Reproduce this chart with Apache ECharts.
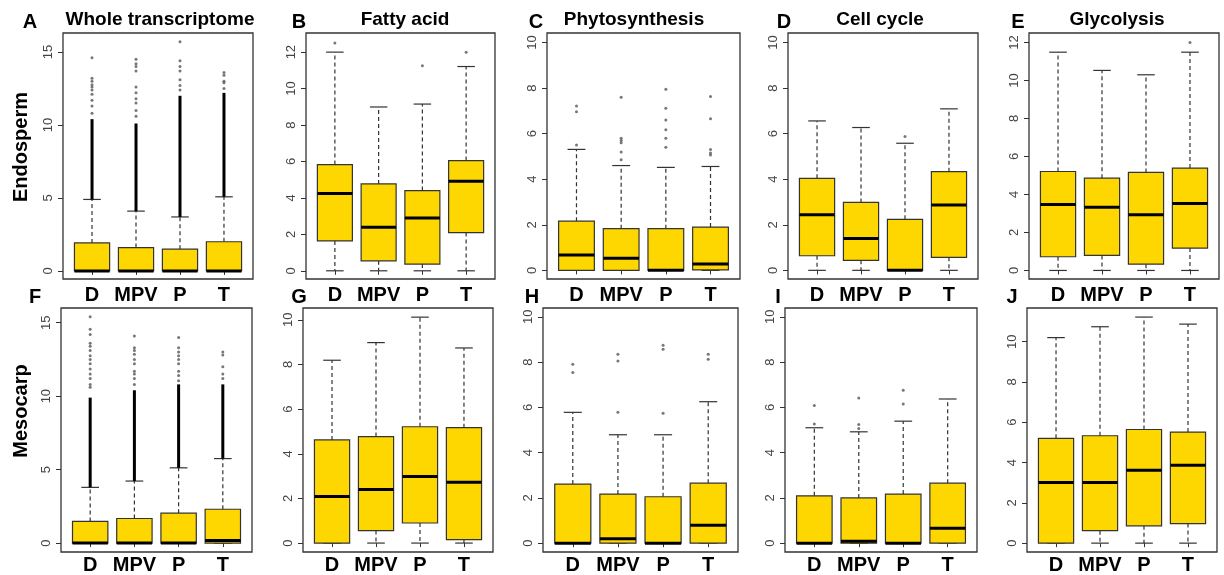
<!DOCTYPE html>
<html>
<head>
<meta charset="utf-8">
<script src="https://cdn.jsdelivr.net/npm/echarts@6/dist/echarts.min.js"></script>
<style>
  html, body { margin: 0; padding: 0; background: #fff; }
  #chart { width: 1224px; height: 575px; }
</style>
</head>
<body>
<div id="chart"></div>
<script>
const categories = ['D', 'MPV', 'P', 'T']
const panelLetters = ['A', 'B', 'C', 'D', 'E', 'F', 'G', 'H', 'I', 'J']
const panelTitles = ['Whole transcriptome', 'Fatty acid', 'Phytosynthesis', 'Cell cycle', 'Glycolysis']
const rowNames = ['Endosperm', 'Mesocarp']

// each box: [lower whisker, q1, median, q3, upper whisker]
const endoWhole = [[0, 0, 0, 1.92, 4.9], [0, 0, 0, 1.6, 4.1], [0, 0, 0, 1.49, 3.7], [0, 0, 0, 2.0, 5.08]]
const endoFatty = [[0, 1.64, 4.24, 5.83, 12.0], [0, 0.55, 2.39, 4.77, 8.99], [0, 0.37, 2.9, 4.4, 9.15], [0, 2.1, 4.91, 6.05, 11.21]]
const endoPhoto = [[0, 0, 0.67, 2.16, 5.31], [0, 0, 0.53, 1.83, 4.6], [0, 0, 0, 1.83, 4.52], [0, 0.02, 0.28, 1.9, 4.56]]
const endoCell = [[0, 0.64, 2.44, 4.04, 6.56], [0, 0.44, 1.4, 2.98, 6.27], [0, 0, 0, 2.24, 5.58], [0, 0.57, 2.87, 4.33, 7.09]]
const endoGly = [[0, 0.72, 3.47, 5.21, 11.49], [0, 0.79, 3.33, 4.86, 10.53], [0, 0.33, 2.93, 5.16, 10.3], [0, 1.18, 3.53, 5.39, 11.49]]
const mesoWhole = [[0, 0, 0, 1.47, 3.79], [0, 0, 0, 1.67, 4.22], [0, 0, 0, 2.03, 5.12], [0, 0, 0.18, 2.3, 5.75]]
const mesoFatty = [[0, 0, 2.09, 4.62, 8.19], [0, 0.56, 2.4, 4.77, 8.98], [0, 0.9, 2.98, 5.21, 10.12], [0, 0.15, 2.73, 5.17, 8.74]]
const mesoPhoto = [[0, 0, 0, 2.61, 5.78], [0, 0, 0.19, 2.17, 4.79], [0, 0, 0, 2.05, 4.79], [0, 0, 0.79, 2.65, 6.25]]
const mesoCell = [[0, 0, 0, 2.09, 5.1], [0, 0, 0.08, 2.0, 4.92], [0, 0, 0, 2.17, 5.39], [0, 0, 0.66, 2.65, 6.37]]
const mesoGly = [[0, 0, 3.01, 5.2, 10.2], [0, 0.62, 3.01, 5.33, 10.74], [0, 0.86, 3.62, 5.64, 11.22], [0, 0.97, 3.87, 5.51, 10.87]]

// top of the solid run of outliers (whole transcriptome only)
const endoWholeDense = [10.4, 10.1, 12.0, 12.2]
const mesoWholeDense = [9.9, 10.4, 10.8, 10.8]

// single outliers per box
const endoWholeOut = [
  [10.8, 11.3, 11.7, 12.1, 12.4, 12.6, 12.75, 13.0, 13.2, 14.6],
  [10.6, 11.0, 11.5, 11.8, 12.2, 12.6, 13.7, 14.0, 14.2, 14.5],
  [12.4, 12.7, 13.1, 13.7, 14.0, 14.4, 15.7],
  [12.5, 12.9, 13.0, 13.4, 13.6]
]
const endoFattyOut = [[12.5], [], [11.25], [12.0]]
const endoPhotoOut = [[5.5, 6.96, 7.22], [4.85, 5.2, 5.6, 5.7, 5.8, 7.6], [5.4, 5.8, 6.17, 6.6, 7.12, 7.95], [5.06, 5.15, 5.3, 6.65, 7.63]]
const endoCellOut = [[], [], [5.88], []]
const endoGlyOut = [[], [], [], [12.0]]
const mesoWholeOut = [
  [10.6, 10.8, 11.2, 11.5, 11.85, 12.2, 12.5, 12.75, 13.1, 13.4, 13.6, 14.2, 14.55, 15.4],
  [10.8, 11.2, 11.5, 11.7, 12.2, 12.5, 12.85, 13.1, 13.3, 14.1],
  [11.05, 11.4, 11.7, 12.2, 12.5, 12.75, 13.0, 13.3, 14.0],
  [11.2, 11.5, 12.0, 12.8, 13.0]
]
const mesoFattyOut = [[], [], [], []]
const mesoPhotoOut = [[7.54, 7.9], [5.78, 8.05, 8.35], [5.74, 8.57, 8.74], [8.13, 8.35]]
const mesoCellOut = [[5.27, 6.08], [5.07, 5.24, 6.41], [6.15, 6.76], []]
const mesoGlyOut = [[], [], [], []]

// y tick labels per panel
const ticksWhole = [0, 5, 10, 15]
const ticks12 = [0, 2, 4, 6, 8, 10, 12]
const ticks10 = [0, 2, 4, 6, 8, 10]

const panels = [
  { stats: endoWhole, out: endoWholeOut, dense: endoWholeDense, yMin: -0.55, yMax: 16.3, ticks: ticksWhole },
  { stats: endoFatty, out: endoFattyOut, yMin: -0.45, yMax: 13.05, ticks: ticks12 },
  { stats: endoPhoto, out: endoPhotoOut, yMin: -0.38, yMax: 10.42, ticks: ticks10 },
  { stats: endoCell, out: endoCellOut, yMin: -0.38, yMax: 10.42, ticks: ticks10 },
  { stats: endoGly, out: endoGlyOut, yMin: -0.45, yMax: 12.5, ticks: ticks12 },
  { stats: mesoWhole, out: mesoWholeOut, dense: mesoWholeDense, yMin: -0.61, yMax: 16.0, ticks: ticksWhole },
  { stats: mesoFatty, out: mesoFattyOut, yMin: -0.4, yMax: 10.53, ticks: ticks10 },
  { stats: mesoPhoto, out: mesoPhotoOut, yMin: -0.39, yMax: 10.39, ticks: ticks10 },
  { stats: mesoCell, out: mesoCellOut, yMin: -0.39, yMax: 10.39, ticks: ticks10 },
  { stats: mesoGly, out: mesoGlyOut, yMin: -0.44, yMax: 11.67, ticks: ticks10 }
]

// plot frames [left, top, width, height]
const frames = [
  [63, 33, 190, 246], [306, 33, 189, 246], [547, 33, 193, 246], [788, 33, 190, 246], [1029, 33, 190, 246],
  [61, 308, 191, 246], [303, 308, 190, 246], [543, 308, 195, 246], [785, 308, 192, 246], [1027, 308, 190, 246]
]
const letterPos = [[30, 22], [299, 22], [536, 22], [784, 22], [1018, 22], [35, 297], [299, 297], [532, 297], [778, 297], [1012, 297]]
const titlePos = [[160, 20], [405, 20], [634, 20], [880, 20], [1117, 20]]
const rowNamePos = [[21, 147], [21, 411]]

const FONT = '"Liberation Sans", Arial, sans-serif'
const BOX_FILL = '#FFD700'
const EDGE = '#333'

const chart = echarts.init(document.getElementById('chart'), null, { renderer: 'canvas' })

function renderBox(params, api) {
  const x = api.value(0)
  const cx = api.coord([x, 0])[0]
  const py = i => api.coord([x, api.value(i)])[1]
  const yLo = py(1), yQ1 = py(2), yMed = py(3), yQ3 = py(4), yHi = py(5), yDense = py(6)
  const bw = api.size([0.8, 0])[0]
  const half = bw / 2
  const cap = bw / 4
  const children = [
    { type: 'line', shape: { x1: cx, y1: yQ3, x2: cx, y2: yHi }, style: { stroke: EDGE, lineWidth: 1.2, lineDash: [4, 3] } },
    { type: 'line', shape: { x1: cx, y1: yQ1, x2: cx, y2: yLo }, style: { stroke: EDGE, lineWidth: 1.2, lineDash: [4, 3] } },
    { type: 'line', shape: { x1: cx - cap, y1: yHi, x2: cx + cap, y2: yHi }, style: { stroke: EDGE, lineWidth: 1.2 } },
    { type: 'line', shape: { x1: cx - cap, y1: yLo, x2: cx + cap, y2: yLo }, style: { stroke: EDGE, lineWidth: 1.2 } }
  ]
  if (yDense < yHi - 1) {
    children.push({ type: 'line', shape: { x1: cx, y1: yHi, x2: cx, y2: yDense }, style: { stroke: '#000', lineWidth: 3 } })
  }
  children.push(
    { type: 'rect', shape: { x: cx - half, y: yQ3, width: bw, height: yQ1 - yQ3 }, style: { fill: BOX_FILL, stroke: EDGE, lineWidth: 1.2 } },
    { type: 'line', shape: { x1: cx - half, y1: yMed, x2: cx + half, y2: yMed }, style: { stroke: '#000', lineWidth: 3 } }
  )
  return { type: 'group', children }
}

const grid = [], xAxis = [], yAxis = [], series = [], graphic = []

panels.forEach((p, i) => {
  const [left, top, width, height] = frames[i]
  const row = i < 5 ? 0 : 1
  grid.push({ left, top, width, height, show: true, borderColor: EDGE, borderWidth: 1.3, backgroundColor: 'transparent' })
  xAxis.push({
    gridIndex: i, type: 'value', min: 0.34, max: 4.66,
    axisLine: { show: false }, splitLine: { show: false },
    axisTick: { show: true, customValues: [1, 2, 3, 4], length: 4, lineStyle: { color: EDGE } },
    axisLabel: {
      customValues: [1, 2, 3, 4],
      formatter: v => categories[Math.round(v) - 1],
      fontFamily: FONT, fontSize: 20, fontWeight: 'bold', color: '#000',
      margin: row === 0 ? 6 : 3
    }
  })
  yAxis.push({
    gridIndex: i, type: 'value', min: p.yMin, max: p.yMax,
    axisLine: { show: false }, splitLine: { show: false },
    axisTick: { show: true, customValues: p.ticks, length: 5, lineStyle: { color: EDGE } },
    axisLabel: { customValues: p.ticks, rotate: 90, fontFamily: FONT, fontSize: 13, color: '#444', margin: 8 }
  })

  const boxData = p.stats.map((s, j) => [j + 1, ...s, p.dense ? p.dense[j] : s[4]])
  series.push({
    type: 'custom', xAxisIndex: i, yAxisIndex: i,
    renderItem: renderBox, data: boxData, silent: true,
    encode: { x: 0, y: [1, 2, 3, 4, 5, 6] }
  })

  const outData = []
  p.out.forEach((vals, j) => vals.forEach(v => outData.push([j + 1, v])))
  series.push({
    type: 'scatter', xAxisIndex: i, yAxisIndex: i,
    data: outData, symbol: 'circle', symbolSize: 3,
    itemStyle: { color: '#555' }, silent: true
  })

  graphic.push({
    type: 'text', x: letterPos[i][0], y: letterPos[i][1],
    style: { text: panelLetters[i], font: 'bold 20px ' + FONT, fill: '#000', textAlign: 'center', textVerticalAlign: 'middle' }
  })
})

panelTitles.forEach((t, i) => {
  graphic.push({
    type: 'text', x: titlePos[i][0], y: titlePos[i][1],
    style: { text: t, font: 'bold 19px ' + FONT, fill: '#000', textAlign: 'center', textVerticalAlign: 'middle' }
  })
})

rowNames.forEach((t, i) => {
  graphic.push({
    type: 'text', x: rowNamePos[i][0], y: rowNamePos[i][1], rotation: Math.PI / 2,
    style: { text: t, font: 'bold 20px ' + FONT, fill: '#000', textAlign: 'center', textVerticalAlign: 'middle' }
  })
})

chart.setOption({
  animation: false,
  backgroundColor: '#fff',
  grid, xAxis, yAxis, series, graphic
})
</script>
</body>
</html>
